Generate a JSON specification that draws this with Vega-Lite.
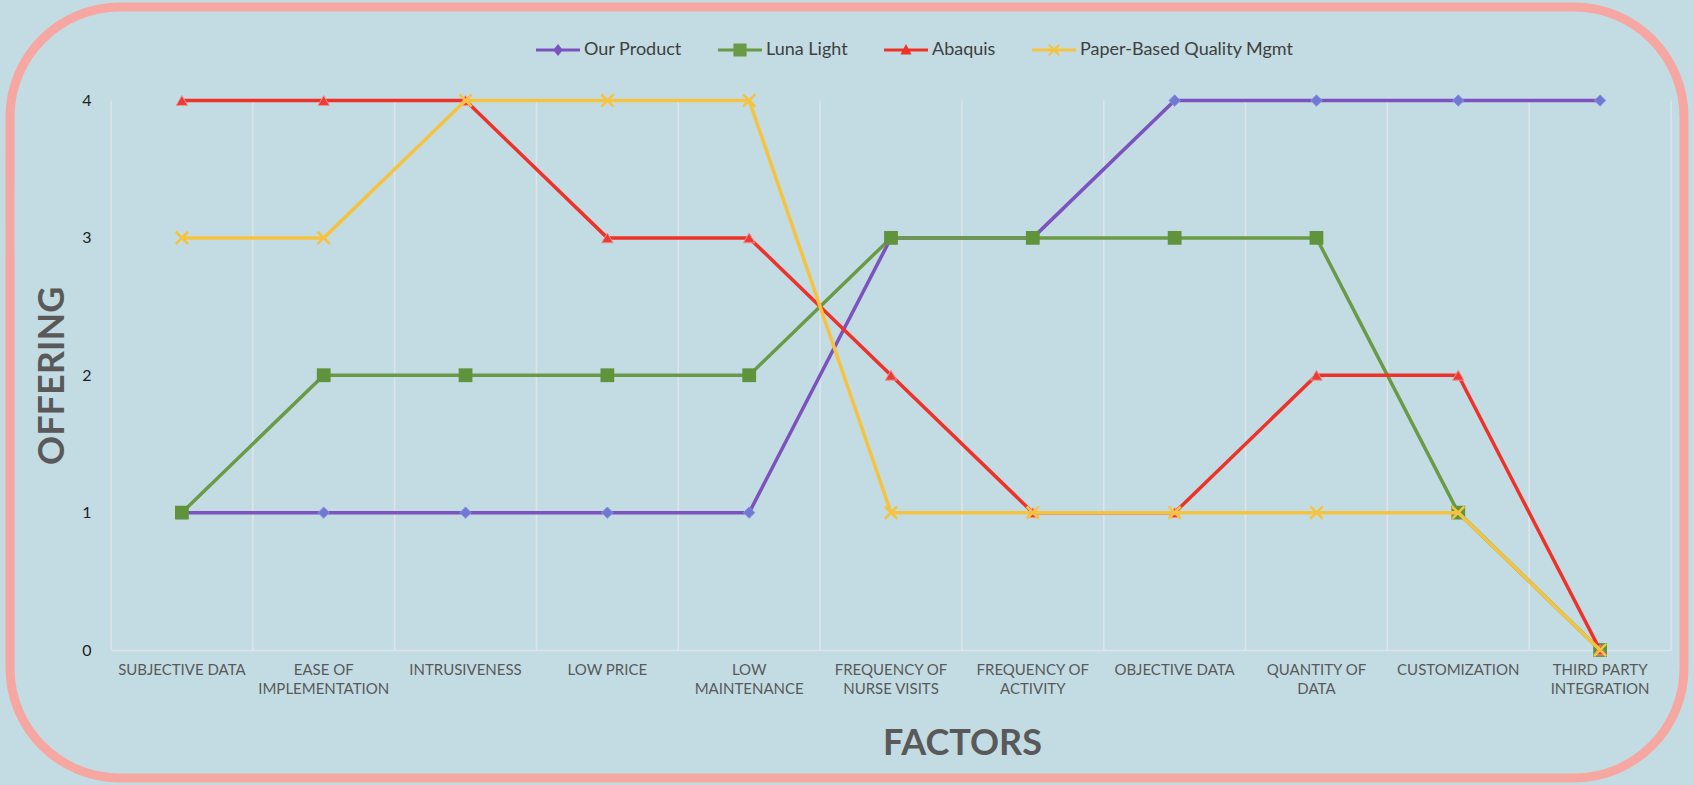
{
  "$schema": "https://vega.github.io/schema/vega-lite/v6.json",
  "width": 1674,
  "height": 771,
  "autosize": {"type": "none"},
  "padding": {"left": 10, "top": 7, "right": 10, "bottom": 7},
  "background": "#C3DCE3",
  "config": {
    "font": "Lato",
    "view": {"fill": "#C3DCE3", "stroke": "#F7A7A1", "strokeWidth": 9, "cornerRadius": 110}
  },
  "data": {"values": [
    {"factor": "SUBJECTIVE DATA", "series": "Our Product", "value": 1},
    {"factor": "EASE OF IMPLEMENTATION", "series": "Our Product", "value": 1},
    {"factor": "INTRUSIVENESS", "series": "Our Product", "value": 1},
    {"factor": "LOW PRICE", "series": "Our Product", "value": 1},
    {"factor": "LOW MAINTENANCE", "series": "Our Product", "value": 1},
    {"factor": "FREQUENCY OF NURSE VISITS", "series": "Our Product", "value": 3},
    {"factor": "FREQUENCY OF ACTIVITY", "series": "Our Product", "value": 3},
    {"factor": "OBJECTIVE DATA", "series": "Our Product", "value": 4},
    {"factor": "QUANTITY OF DATA", "series": "Our Product", "value": 4},
    {"factor": "CUSTOMIZATION", "series": "Our Product", "value": 4},
    {"factor": "THIRD PARTY INTEGRATION", "series": "Our Product", "value": 4},
    {"factor": "SUBJECTIVE DATA", "series": "Luna Light", "value": 1},
    {"factor": "EASE OF IMPLEMENTATION", "series": "Luna Light", "value": 2},
    {"factor": "INTRUSIVENESS", "series": "Luna Light", "value": 2},
    {"factor": "LOW PRICE", "series": "Luna Light", "value": 2},
    {"factor": "LOW MAINTENANCE", "series": "Luna Light", "value": 2},
    {"factor": "FREQUENCY OF NURSE VISITS", "series": "Luna Light", "value": 3},
    {"factor": "FREQUENCY OF ACTIVITY", "series": "Luna Light", "value": 3},
    {"factor": "OBJECTIVE DATA", "series": "Luna Light", "value": 3},
    {"factor": "QUANTITY OF DATA", "series": "Luna Light", "value": 3},
    {"factor": "CUSTOMIZATION", "series": "Luna Light", "value": 1},
    {"factor": "THIRD PARTY INTEGRATION", "series": "Luna Light", "value": 0},
    {"factor": "SUBJECTIVE DATA", "series": "Abaquis", "value": 4},
    {"factor": "EASE OF IMPLEMENTATION", "series": "Abaquis", "value": 4},
    {"factor": "INTRUSIVENESS", "series": "Abaquis", "value": 4},
    {"factor": "LOW PRICE", "series": "Abaquis", "value": 3},
    {"factor": "LOW MAINTENANCE", "series": "Abaquis", "value": 3},
    {"factor": "FREQUENCY OF NURSE VISITS", "series": "Abaquis", "value": 2},
    {"factor": "FREQUENCY OF ACTIVITY", "series": "Abaquis", "value": 1},
    {"factor": "OBJECTIVE DATA", "series": "Abaquis", "value": 1},
    {"factor": "QUANTITY OF DATA", "series": "Abaquis", "value": 2},
    {"factor": "CUSTOMIZATION", "series": "Abaquis", "value": 2},
    {"factor": "THIRD PARTY INTEGRATION", "series": "Abaquis", "value": 0},
    {"factor": "SUBJECTIVE DATA", "series": "Paper-Based Quality Mgmt", "value": 3},
    {"factor": "EASE OF IMPLEMENTATION", "series": "Paper-Based Quality Mgmt", "value": 3},
    {"factor": "INTRUSIVENESS", "series": "Paper-Based Quality Mgmt", "value": 4},
    {"factor": "LOW PRICE", "series": "Paper-Based Quality Mgmt", "value": 4},
    {"factor": "LOW MAINTENANCE", "series": "Paper-Based Quality Mgmt", "value": 4},
    {"factor": "FREQUENCY OF NURSE VISITS", "series": "Paper-Based Quality Mgmt", "value": 1},
    {"factor": "FREQUENCY OF ACTIVITY", "series": "Paper-Based Quality Mgmt", "value": 1},
    {"factor": "OBJECTIVE DATA", "series": "Paper-Based Quality Mgmt", "value": 1},
    {"factor": "QUANTITY OF DATA", "series": "Paper-Based Quality Mgmt", "value": 1},
    {"factor": "CUSTOMIZATION", "series": "Paper-Based Quality Mgmt", "value": 1},
    {"factor": "THIRD PARTY INTEGRATION", "series": "Paper-Based Quality Mgmt", "value": 0}
  ]},
  "layer": [
    {
      "transform": [{"filter": "datum.series == 'Our Product'"}],
      "mark": {"type": "rule", "color": "#DDE5E8", "strokeWidth": 1.5},
      "encoding": {
        "x": {
          "field": "factor", "type": "nominal", "bandPosition": 0,
          "scale": {
            "type": "band",
            "domain": ["SUBJECTIVE DATA", "EASE OF IMPLEMENTATION", "INTRUSIVENESS", "LOW PRICE", "LOW MAINTENANCE", "FREQUENCY OF NURSE VISITS", "FREQUENCY OF ACTIVITY", "OBJECTIVE DATA", "QUANTITY OF DATA", "CUSTOMIZATION", "THIRD PARTY INTEGRATION"],
            "range": [101, 1661], "paddingInner": 0, "paddingOuter": 0
          },
          "axis": {
            "title": "FACTORS", "orient": "bottom", "offset": -128,
            "domain": true, "domainColor": "#DDE5E8", "domainWidth": 1.5,
            "ticks": false, "tickSize": 0, "grid": false,
            "labelAngle": 0, "labelFont": "Lato", "labelFontSize": 15, "labelColor": "#595959",
            "labelPadding": 12, "labelLineHeight": 19, "labelOverlap": false, "labelLimit": 400,
            "labelExpr": "split(replace(replace(replace(datum.label, 'OF ', 'OF|'), 'LOW M', 'LOW|M'), 'PARTY ', 'PARTY|'), '|')",
            "titleFont": "Lato", "titleFontSize": 36, "titleFontWeight": "bold", "titleColor": "#595959",
            "titleX": 952, "titleY": 93, "titleBaseline": "middle", "titleAlign": "center"
          }
        },
        "y": {
          "datum": 0, "type": "quantitative",
          "scale": {"domain": [0, 4], "range": [643, 93.5], "nice": false, "zero": true},
          "axis": {
            "title": "OFFERING", "orient": "left", "offset": -91, "values": [0, 1, 2, 3, 4], "format": "d",
            "domain": false, "ticks": false, "tickSize": 0, "grid": false,
            "labelFont": "Lato", "labelFontSize": 16, "labelColor": "#222222", "labelPadding": 10,
            "titleFont": "Lato", "titleFontSize": 36, "titleFontWeight": "bold", "titleColor": "#595959",
            "titleX": -49, "titleBaseline": "middle", "titleAngle": -90
          }
        },
        "y2": {"datum": 4}
      }
    },
    {
      "transform": [{"filter": "datum.series == 'Our Product' && datum.factor == 'THIRD PARTY INTEGRATION'"}],
      "mark": {"type": "rule", "color": "#DDE5E8", "strokeWidth": 1.5},
      "encoding": {
        "x": {"field": "factor", "type": "nominal", "bandPosition": 1},
        "y": {"datum": 0, "type": "quantitative"},
        "y2": {"datum": 4}
      }
    },
    {
      "transform": [{"filter": "datum.series == 'Our Product'"}],
      "mark": {"type": "line", "strokeWidth": 3.5, "color": "#7B52BE"},
      "encoding": {
        "x": {"field": "factor", "type": "nominal", "bandPosition": 0.5},
        "y": {"field": "value", "type": "quantitative"}
      }
    },
    {
      "transform": [{"filter": "datum.series == 'Our Product'"}],
      "mark": {"type": "point", "shape": "diamond", "size": 130, "filled": true, "fill": "#6F78D2", "stroke": "#8C92E2", "strokeWidth": 1, "opacity": 1},
      "encoding": {
        "x": {"field": "factor", "type": "nominal", "bandPosition": 0.5},
        "y": {"field": "value", "type": "quantitative"}
      }
    },
    {
      "transform": [{"filter": "datum.series == 'Luna Light'"}],
      "mark": {"type": "line", "strokeWidth": 3.5, "color": "#6B9A47"},
      "encoding": {
        "x": {"field": "factor", "type": "nominal", "bandPosition": 0.5},
        "y": {"field": "value", "type": "quantitative"}
      }
    },
    {
      "transform": [{"filter": "datum.series == 'Luna Light'"}],
      "mark": {"type": "point", "shape": "square", "size": 190, "filled": true, "fill": "#5F943D", "strokeWidth": 0, "opacity": 1},
      "encoding": {
        "x": {"field": "factor", "type": "nominal", "bandPosition": 0.5},
        "y": {"field": "value", "type": "quantitative"}
      }
    },
    {
      "transform": [{"filter": "datum.series == 'Abaquis'"}],
      "mark": {"type": "line", "strokeWidth": 3.5, "color": "#EE3229"},
      "encoding": {
        "x": {"field": "factor", "type": "nominal", "bandPosition": 0.5},
        "y": {"field": "value", "type": "quantitative"}
      }
    },
    {
      "transform": [{"filter": "datum.series == 'Abaquis'"}],
      "mark": {"type": "point", "shape": "triangle-up", "size": 130, "filled": true, "fill": "#EC3A35", "stroke": "#F2908C", "strokeWidth": 1, "opacity": 1},
      "encoding": {
        "x": {"field": "factor", "type": "nominal", "bandPosition": 0.5},
        "y": {"field": "value", "type": "quantitative"}
      }
    },
    {
      "transform": [{"filter": "datum.series == 'Paper-Based Quality Mgmt'"}],
      "mark": {"type": "line", "strokeWidth": 3.5, "color": "#F5C342"},
      "encoding": {
        "x": {"field": "factor", "type": "nominal", "bandPosition": 0.5},
        "y": {"field": "value", "type": "quantitative"}
      }
    },
    {
      "transform": [{"filter": "datum.series == 'Paper-Based Quality Mgmt'"}],
      "mark": {"type": "point", "shape": "M-1,-1L1,1M-1,1L1,-1", "size": 150, "filled": false, "stroke": "#F5C342", "strokeWidth": 2.5, "opacity": 1},
      "encoding": {
        "x": {"field": "factor", "type": "nominal", "bandPosition": 0.5},
        "y": {"field": "value", "type": "quantitative"}
      }
    },
    {
      "mark": {"type": "point", "filled": true, "opacity": 0, "size": 10},
      "encoding": {
        "x": {"field": "factor", "type": "nominal", "bandPosition": 0.5},
        "y": {"field": "value", "type": "quantitative"},
        "color": {
          "field": "series", "type": "nominal",
          "scale": {"domain": ["Our Product", "Luna Light", "Abaquis", "Paper-Based Quality Mgmt"], "range": ["#7B52BE", "#6B9A47", "#EE3229", "#F5C342"]},
          "legend": {"orient": "none", "legendX": 526, "legendY": 21, "direction": "horizontal", "columns": 4, "title": null, "labelFont": "Lato", "labelFontSize": 18, "labelColor": "#404040", "columnPadding": 36, "symbolStrokeWidth": 0, "labelOffset": 4, "padding": 0, "symbolOpacity": 1, "labelLimit": 400, "symbolSize": 1936}
        },
        "shape": {
          "field": "series", "type": "nominal",
          "scale": {
            "domain": ["Our Product", "Luna Light", "Abaquis", "Paper-Based Quality Mgmt"],
            "range": [
              "M-1,-0.073H1V0.073H-1Z M0,-0.27L0.22,0L0,0.27L-0.22,0Z",
              "M-1,-0.073H1V0.073H-1Z M-0.3,-0.3H0.3V0.3H-0.3Z",
              "M-1,-0.073H1V0.073H-1Z M0,-0.27L0.25,0.2H-0.25Z",
              "M-1,-0.073H1V0.073H-1Z M-0.205,-0.275L0.275,0.205L0.205,0.275L-0.275,-0.205Z M-0.275,0.205L0.205,-0.275L0.275,-0.205L-0.205,0.275Z"
            ]
          },
          "legend": {"orient": "none", "legendX": 526, "legendY": 21, "direction": "horizontal", "columns": 4, "title": null, "labelFont": "Lato", "labelFontSize": 18, "labelColor": "#404040", "columnPadding": 36, "symbolStrokeWidth": 0, "labelOffset": 4, "padding": 0, "symbolOpacity": 1, "labelLimit": 400, "symbolSize": 1936}
        }
      }
    }
  ]
}
